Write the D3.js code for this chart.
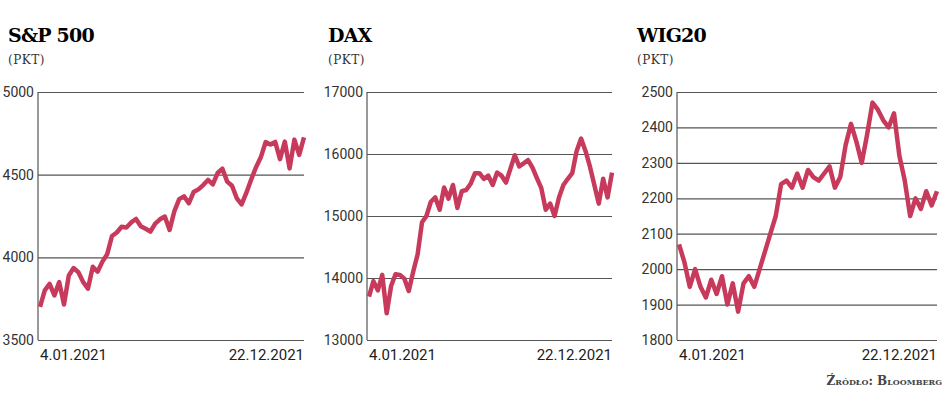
<!DOCTYPE html>
<html><head><meta charset="utf-8">
<script src="https://cdn.jsdelivr.net/npm/d3@7"></script>
<style>body{margin:0;background:#fff}</style>
</head><body>
<svg id="chart" width="948" height="406"></svg>
<script>
// weekly closes, 4.01.2021 .. 22.12.2021
const spx = [3700,3800,3840,3770,3850,3715,3890,3935,3910,3850,3811,3943,3913,3974,4019,4129,4150,4185,4180,4211,4232,4188,4173,4156,4204,4230,4247,4166,4280,4352,4369,4327,4395,4411,4437,4468,4441,4510,4536,4458,4433,4357,4320,4391,4471,4545,4605,4697,4682,4698,4594,4700,4538,4712,4620,4725];
const dax = [13700,13950,13800,14050,13430,13870,14060,14050,13990,13790,14100,14380,14900,15000,15230,15300,15100,15460,15280,15500,15130,15400,15420,15520,15690,15690,15600,15650,15500,15700,15650,15540,15760,15980,15800,15850,15900,15780,15610,15450,15100,15200,15000,15300,15500,15600,15690,16050,16250,16050,15800,15500,15200,15600,15300,15700];
const wig = [2070,2020,1950,2000,1950,1920,1970,1930,1980,1900,1960,1880,1960,1980,1950,2000,2050,2100,2150,2240,2250,2230,2270,2230,2280,2260,2250,2270,2290,2230,2260,2350,2410,2360,2300,2380,2470,2450,2420,2400,2440,2320,2250,2150,2200,2170,2220,2180,2220];
const panels = [
  {title:"S&P 500", data:spx, ticks:[3500,4000,4500,5000], x0:38, x1:304, tx:8},
  {title:"DAX", data:dax, ticks:[13000,14000,15000,16000,17000], x0:367, x1:612, tx:328},
  {title:"WIG20", data:wig, ticks:[1800,1900,2000,2100,2200,2300,2400,2500], x0:677, x1:937, tx:637}
];
const dateLabels = ["4.01.2021","22.12.2021"];
const plotTop = 92, plotBottom = 340;
const svg = d3.select("#chart");
const sans = "'Liberation Sans Narrow','Roboto','Liberation Sans',sans-serif";
const serif = "'DejaVu Serif','Liberation Serif',serif";

panels.forEach(p => {
  const y = d3.scaleLinear().domain(d3.extent(p.ticks)).range([plotBottom, plotTop]);
  const x = d3.scaleLinear().domain([0, p.data.length - 1]).range([p.x0 + 2, p.x1]);
  const g = svg.append("g");
  g.append("text").attr("x", p.tx).attr("y", 42).style("font-family", serif)
    .style("font-weight", "bold").style("font-size", "19px").style("letter-spacing", "-0.8px").text(p.title);
  g.append("text").attr("x", p.tx).attr("y", 64).style("font-family", serif)
    .style("font-size", "12px").style("letter-spacing", "0.5px").attr("fill", "#333").text("(PKT)");
  const ax = g.append("g").attr("transform", `translate(${p.x0},0)`)
    .call(d3.axisLeft(y).tickValues(p.ticks).tickSize(-(p.x1 - p.x0)).tickFormat(d3.format("d")).tickPadding(4));
  ax.select(".domain").remove();
  ax.selectAll("line").attr("stroke", "#555").attr("stroke-width", 1.2);
  ax.selectAll("text").style("font-family", sans).style("font-size", "14px").attr("fill", "#333");
  g.append("line").attr("x1", p.x0).attr("x2", p.x0).attr("y1", plotTop).attr("y2", plotBottom)
    .attr("stroke", "#555").attr("stroke-width", 1.2);
  g.append("path").datum(p.data).attr("fill", "none").attr("stroke", "#c83a5c")
    .attr("stroke-width", 4.5).attr("stroke-linejoin", "round")
    .attr("d", d3.line().x((d, i) => x(i)).y(d => y(d)));
  g.append("text").attr("x", p.x0 + 2).attr("y", 360).style("font-family", sans)
    .style("font-size", "15px").attr("fill", "#222").text(dateLabels[0]);
  g.append("text").attr("x", p.x1).attr("y", 360).attr("text-anchor", "end").style("font-family", sans)
    .style("font-size", "15px").attr("fill", "#222").text(dateLabels[1]);
});
svg.append("text").attr("x", 942).attr("y", 385).attr("text-anchor", "end")
  .style("font-family", serif).style("font-size", "12px").style("font-variant", "small-caps")
  .style("font-weight", "bold").attr("fill", "#444").text("Źródło: Bloomberg");
</script>
</body></html>
